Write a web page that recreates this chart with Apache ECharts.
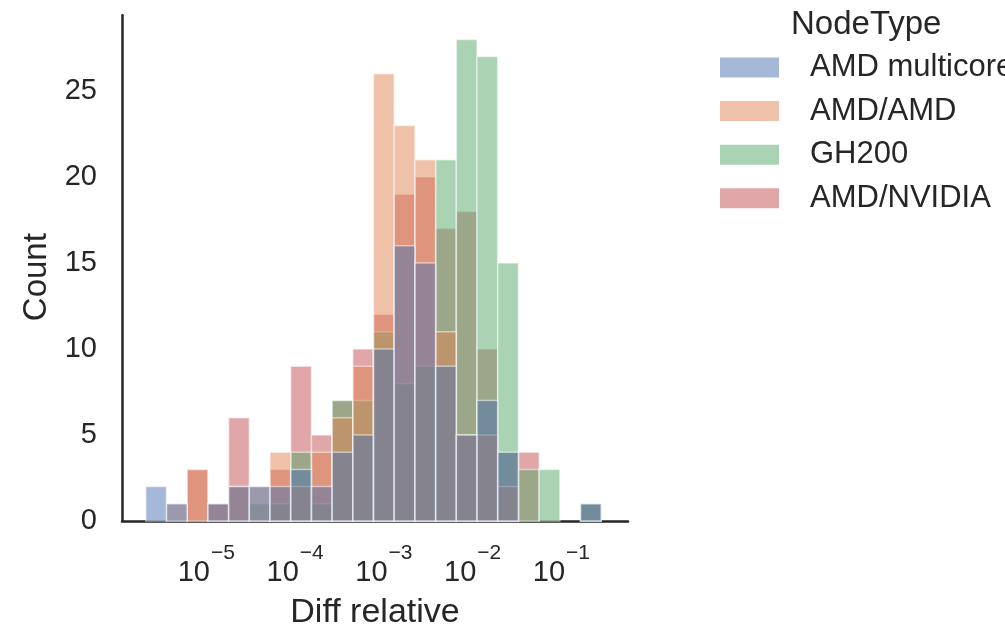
<!DOCTYPE html>
<html>
<head>
<meta charset="utf-8">
<script src="https://cdn.jsdelivr.net/npm/echarts@6/dist/echarts.min.js"></script>
<style>
html,body{margin:0;padding:0;background:#fff;}
#chart{width:1005px;height:627px;}
</style>
</head>
<body>
<div id="chart"></div>
<script>
// Bin edges (log10 of "Diff relative"), 22 shared bins
var binEdgesLog10 = [-5.682, -5.449, -5.216, -4.982, -4.749, -4.516, -4.283, -4.050, -3.816, -3.583,
  -3.350, -3.117, -2.884, -2.650, -2.417, -2.184, -1.951, -1.718, -1.484, -1.251, -1.018, -0.785, -0.552];

var hueNames = ['AMD multicore', 'AMD/AMD', 'GH200', 'AMD/NVIDIA'];
var hueColors = ['#4C72B0', '#DD8452', '#55A868', '#C44E52'];

// Counts per bin for each NodeType
var countsAMDmulticore = [2, 1, 0, 1, 2, 2, 2, 3, 2, 4, 5, 10, 16, 15, 9, 5, 7, 4, 0, 0, 0, 1];
var countsAMDAMD       = [0, 1, 3, 1, 2, 2, 4, 2, 4, 6, 9, 26, 23, 21, 11, 5, 5, 2, 0, 0, 0, 0];
var countsGH200        = [0, 0, 0, 0, 0, 1, 1, 4, 1, 7, 7, 11, 8, 9, 21, 28, 27, 15, 3, 3, 0, 1];
var countsAMDNVIDIA    = [0, 0, 3, 1, 6, 0, 3, 9, 5, 7, 10, 12, 19, 20, 17, 18, 10, 4, 4, 0, 0, 1];

var xTickExponents = [-5, -4, -3, -2, -1];
var yTicks = [0, 5, 10, 15, 20, 25];

var allCounts = [countsAMDmulticore, countsAMDAMD, countsGH200, countsAMDNVIDIA];

var FONT = 'Liberation Sans, Arial, sans-serif';
var TXT = '#262626';

function hexToRgba(hex, a) {
  var n = parseInt(hex.slice(1), 16);
  return 'rgba(' + ((n >> 16) & 255) + ',' + ((n >> 8) & 255) + ',' + (n & 255) + ',' + a + ')';
}

function makeSeries(k) {
  var counts = allCounts[k];
  var color = hueColors[k];
  return {
    name: hueNames[k],
    type: 'custom',
    coordinateSystem: 'cartesian2d',
    encode: { x: [0, 1], y: 2 },
    itemStyle: { color: hexToRgba(color, 0.5) },
    data: counts.map(function (c, i) { return [binEdgesLog10[i], binEdgesLog10[i + 1], c]; }),
    renderItem: function (params, api) {
      var x0 = api.value(0), x1 = api.value(1), c = api.value(2);
      if (!c) return null;
      var p0 = api.coord([x0, c]);
      var p1 = api.coord([x1, 0]);
      return {
        type: 'rect',
        shape: { x: p0[0], y: p0[1], width: p1[0] - p0[0], height: p1[1] - p0[1] },
        style: { fill: color, stroke: '#ffffff', lineWidth: 1.5, opacity: 0.5 }
      };
    }
  };
}

// draw order: AMD/NVIDIA at bottom, AMD multicore on top
var series = [3, 2, 1, 0].map(makeSeries);

var chart = echarts.init(document.getElementById('chart'), null, { renderer: 'canvas' });
chart.setOption({
  animation: false,
  backgroundColor: '#ffffff',
  textStyle: { fontFamily: FONT },
  title: {
    text: 'NodeType', left: 786, top: 3,
    textStyle: { fontFamily: FONT, fontSize: 33, fontWeight: 'normal', color: TXT }
  },
  legend: {
    orient: 'vertical', left: 715, top: 47,
    itemWidth: 59, itemHeight: 20, itemGap: 12.6,
    icon: 'rect',
    data: hueNames.map(function (n, k) {
      return { name: n, itemStyle: { color: hexToRgba(hueColors[k], 0.5) } };
    }),
    textStyle: { fontFamily: FONT, fontSize: 31, color: TXT, lineHeight: 31, padding: [0, 0, 0, 26] }
  },
  grid: { left: 122, right: 377, top: 15.3, bottom: 106, outerBoundsMode: 'none', containLabel: false },
  xAxis: {
    type: 'value', min: -5.95, max: -0.25,
    name: 'Diff relative', nameLocation: 'middle', nameGap: 75,
    nameTextStyle: { fontFamily: FONT, fontSize: 34, color: TXT },
    axisLine: { show: true, onZero: false, lineStyle: { color: TXT, width: 2.5 } },
    axisTick: { show: false },
    splitLine: { show: false },
    axisLabel: {
      customValues: xTickExponents,
      margin: 22,
      formatter: function (v) { return '{b|10}{s|\u2212' + Math.abs(v) + '}'; },
      rich: {
        b: { fontFamily: FONT, fontSize: 29, color: TXT },
        s: { fontFamily: FONT, fontSize: 21, color: TXT, padding: [0, 0, 38, 1] }
      }
    }
  },
  yAxis: {
    type: 'value', min: 0, max: 29.4,
    name: 'Count', nameLocation: 'middle', nameGap: 56, nameRotate: 90,
    nameTextStyle: { fontFamily: FONT, fontSize: 33, color: TXT, padding: [0, 18, 0, 0] },
    axisLine: { show: true, lineStyle: { color: TXT, width: 2.5 } },
    axisTick: { show: false },
    splitLine: { show: false },
    axisLabel: {
      customValues: yTicks, margin: 25,
      fontFamily: FONT, fontSize: 29, color: TXT
    }
  },
  series: series
});
</script>
</body>
</html>
